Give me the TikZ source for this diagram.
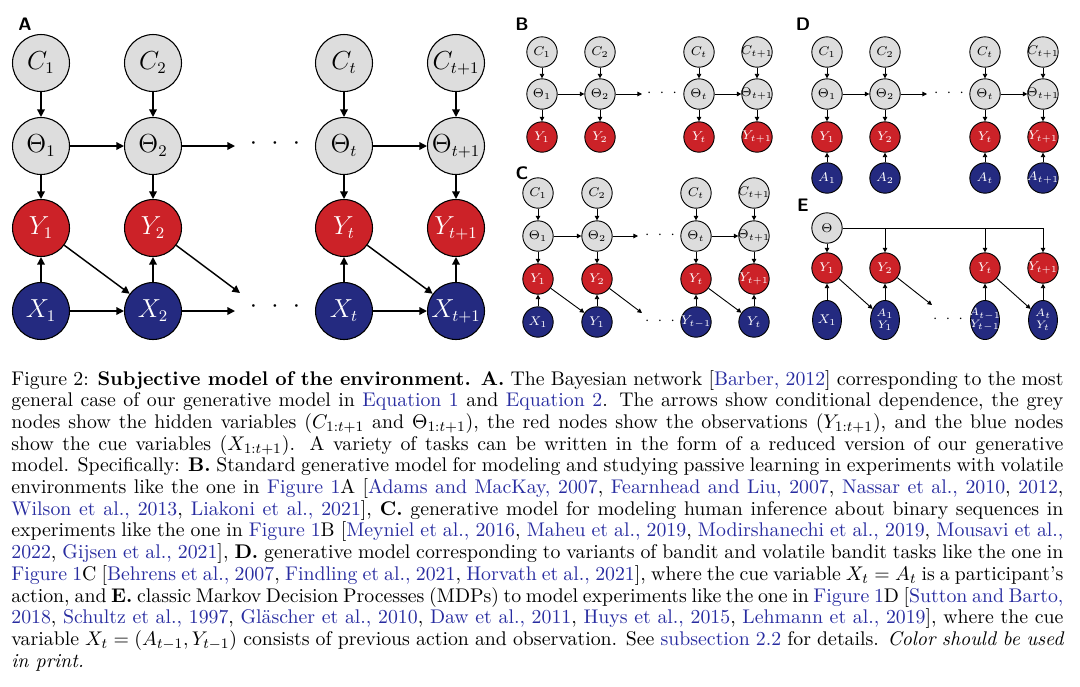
\documentclass[tikz,border=0pt]{standalone}
\usepackage{amsmath,amssymb}
\usepackage{xcolor}
\usepackage{tikz}
\usetikzlibrary{shapes.geometric, arrows.meta, positioning}

\definecolor{hidgrey}{RGB}{221,221,221}
\definecolor{obsred}{RGB}{204,34,40}
\definecolor{cueblue}{RGB}{36,42,128}
\definecolor{linkblue}{RGB}{40,44,160}
\newcommand{\lnk}[1]{\textcolor{linkblue}{#1}}
\newcommand{\trio}{$\cdot\ \cdot\ \cdot$}
\newcommand{\nowide}[1]{\makebox[0pt]{#1}}

\begin{document}
\begin{tikzpicture}[
    x=0.553pt, y=-0.553pt,
    hidden/.style={circle, draw=black, fill=hidgrey, line width=0.6pt, minimum size=31.5pt, inner sep=0pt, font=\fontsize{13.5}{16}\selectfont},
    observed/.style={hidden, fill=obsred, text=white},
    cue/.style={hidden, fill=cueblue, text=white},
    mini/.style={minimum size=16.8pt, line width=0.5pt, font=\fontsize{7.3}{9}\selectfont},
    pair/.style={ellipse, draw=black, fill=cueblue, text=white, line width=0.5pt, minimum width=16pt, minimum height=21.6pt, inner sep=0pt, align=center, font=\fontsize{6.4}{7.5}\selectfont},
    panel/.style={font=\sffamily\bfseries},
    arrow/.style={-{Triangle[length=4.2pt, width=4.2pt]}, line width=0.8pt},
    sarrow/.style={-{Triangle[length=2.5pt, width=2.5pt]}, line width=0.5pt}
]
    \useasboundingbox (0,0) rectangle (1080,686);

    % Panel A: full model
    \node (labA) [panel] at (25,24) {A};
    \node (aC1) [hidden] at (41,63) {$C_1$};
    \node (aC2) [hidden] at (153,63) {$C_2$};
    \node (aCt) [hidden] at (344,63) {$C_t$};
    \node (aCt1) [hidden] at (456,63) {\nowide{$C_{t+1}$}};
    \node (aTh1) [hidden] at (41,146) {$\Theta_1$};
    \node (aTh2) [hidden] at (153,146) {$\Theta_2$};
    \node (aTht) [hidden] at (344,146) {$\Theta_t$};
    \node (aTht1) [hidden] at (456,146) {\nowide{$\Theta_{t+1}$}};
    \node (aY1) [observed] at (41,228) {$Y_1$};
    \node (aY2) [observed] at (153,228) {$Y_2$};
    \node (aYt) [observed] at (344,228) {$Y_t$};
    \node (aYt1) [observed] at (456,228) {\nowide{$Y_{t+1}$}};
    \node (aX1) [cue] at (41,311) {$X_1$};
    \node (aX2) [cue] at (153,311) {$X_2$};
    \node (aXt) [cue] at (344,311) {$X_t$};
    \node (aXt1) [cue] at (456,311) {\nowide{$X_{t+1}$}};
    \node (aDotsTh) [font=\Large] at (275,144) {\trio};
    \node (aDotsX) [font=\Large] at (275,307) {\trio};
    \coordinate (aThEnd) at (235,146);
    \coordinate (aXEnd) at (235,311);
    \coordinate (aYEnd) at (240,293);

    \draw [arrow] (aC1) -- (aTh1);
    \draw [arrow] (aC2) -- (aTh2);
    \draw [arrow] (aCt) -- (aTht);
    \draw [arrow] (aCt1) -- (aTht1);
    \draw [arrow] (aTh1) -- (aY1);
    \draw [arrow] (aTh2) -- (aY2);
    \draw [arrow] (aTht) -- (aYt);
    \draw [arrow] (aTht1) -- (aYt1);
    \draw [arrow] (aX1) -- (aY1);
    \draw [arrow] (aX2) -- (aY2);
    \draw [arrow] (aXt) -- (aYt);
    \draw [arrow] (aXt1) -- (aYt1);
    \draw [arrow] (aTh1) -- (aTh2);
    \draw [arrow] (aTh2) -- (aThEnd);
    \draw [arrow] (aTht) -- (aTht1);
    \draw [arrow] (aX1) -- (aX2);
    \draw [arrow] (aX2) -- (aXEnd);
    \draw [arrow] (aXt) -- (aXt1);
    \draw [arrow] (aY1) -- (aX2);
    \draw [arrow] (aY2) -- (aYEnd);
    \draw [arrow] (aYt) -- (aXt1);

    % Panel B: passive learning
    \node (labB) [panel] at (522,24) {B};
    \node (bC1) [hidden, mini] at (542,52) {$C_1$};
    \node (bC2) [hidden, mini] at (600,52) {$C_2$};
    \node (bCt) [hidden, mini] at (699,52) {$C_t$};
    \node (bCt1) [hidden, mini] at (757,52) {\nowide{$C_{t+1}$}};
    \node (bTh1) [hidden, mini] at (542,94) {$\Theta_1$};
    \node (bTh2) [hidden, mini] at (600,94) {$\Theta_2$};
    \node (bTht) [hidden, mini] at (699,94) {$\Theta_t$};
    \node (bTht1) [hidden, mini] at (757,94) {\nowide{$\Theta_{t+1}$}};
    \node (bY1) [observed, mini] at (542,137) {$Y_1$};
    \node (bY2) [observed, mini] at (600,137) {$Y_2$};
    \node (bYt) [observed, mini] at (699,137) {$Y_t$};
    \node (bYt1) [observed, mini] at (757,137) {\nowide{$Y_{t+1}$}};
    \node (bDots) [font=\footnotesize] at (662,93) {\trio};
    \coordinate (bThEnd) at (642,94);

    \draw [sarrow] (bC1) -- (bTh1);
    \draw [sarrow] (bC2) -- (bTh2);
    \draw [sarrow] (bCt) -- (bTht);
    \draw [sarrow] (bCt1) -- (bTht1);
    \draw [sarrow] (bTh1) -- (bY1);
    \draw [sarrow] (bTh2) -- (bY2);
    \draw [sarrow] (bTht) -- (bYt);
    \draw [sarrow] (bTht1) -- (bYt1);
    \draw [sarrow] (bTh1) -- (bTh2);
    \draw [sarrow] (bTh2) -- (bThEnd);
    \draw [sarrow] (bTht) -- (bTht1);

    % Panel C: binary sequences
    \node (labC) [panel] at (522,173) {C};
    \node (cC1) [hidden, mini] at (538,193) {$C_1$};
    \node (cC2) [hidden, mini] at (597,193) {$C_2$};
    \node (cCt) [hidden, mini] at (696,193) {$C_t$};
    \node (cCt1) [hidden, mini] at (754,193) {\nowide{$C_{t+1}$}};
    \node (cTh1) [hidden, mini] at (538,236) {$\Theta_1$};
    \node (cTh2) [hidden, mini] at (597,236) {$\Theta_2$};
    \node (cTht) [hidden, mini] at (696,236) {$\Theta_t$};
    \node (cTht1) [hidden, mini] at (754,236) {\nowide{$\Theta_{t+1}$}};
    \node (cY1) [observed, mini] at (538,279) {$Y_1$};
    \node (cY2) [observed, mini] at (597,279) {$Y_2$};
    \node (cYt) [observed, mini] at (696,279) {$Y_t$};
    \node (cYt1) [observed, mini] at (754,279) {\nowide{$Y_{t+1}$}};
    \node (cX1) [cue, mini] at (538,322) {$X_1$};
    \node (cX2) [cue, mini] at (597,322) {$Y_1$};
    \node (cXt) [cue, mini] at (696,322) {\nowide{$Y_{t-1}$}};
    \node (cXt1) [cue, mini] at (754,322) {$Y_t$};
    \node (cDotsTh) [font=\footnotesize] at (660,235) {\trio};
    \node (cDotsX) [font=\footnotesize] at (660,321) {\trio};
    \coordinate (cThEnd) at (638,236);
    \coordinate (cYEnd) at (642,313);

    \draw [sarrow] (cC1) -- (cTh1);
    \draw [sarrow] (cC2) -- (cTh2);
    \draw [sarrow] (cCt) -- (cTht);
    \draw [sarrow] (cCt1) -- (cTht1);
    \draw [sarrow] (cTh1) -- (cY1);
    \draw [sarrow] (cTh2) -- (cY2);
    \draw [sarrow] (cTht) -- (cYt);
    \draw [sarrow] (cTht1) -- (cYt1);
    \draw [sarrow] (cX1) -- (cY1);
    \draw [sarrow] (cX2) -- (cY2);
    \draw [sarrow] (cXt) -- (cYt);
    \draw [sarrow] (cXt1) -- (cYt1);
    \draw [sarrow] (cTh1) -- (cTh2);
    \draw [sarrow] (cTh2) -- (cThEnd);
    \draw [sarrow] (cTht) -- (cTht1);
    \draw [sarrow] (cY1) -- (cX2);
    \draw [sarrow] (cY2) -- (cYEnd);
    \draw [sarrow] (cYt) -- (cXt1);

    % Panel D: bandit tasks
    \node (labD) [panel] at (803,24) {D};
    \node (dC1) [hidden, mini] at (827,52) {$C_1$};
    \node (dC2) [hidden, mini] at (885,52) {$C_2$};
    \node (dCt) [hidden, mini] at (985,52) {$C_t$};
    \node (dCt1) [hidden, mini] at (1043,52) {\nowide{$C_{t+1}$}};
    \node (dTh1) [hidden, mini] at (827,94) {$\Theta_1$};
    \node (dTh2) [hidden, mini] at (885,94) {$\Theta_2$};
    \node (dTht) [hidden, mini] at (985,94) {$\Theta_t$};
    \node (dTht1) [hidden, mini] at (1043,94) {\nowide{$\Theta_{t+1}$}};
    \node (dY1) [observed, mini] at (827,137) {$Y_1$};
    \node (dY2) [observed, mini] at (885,137) {$Y_2$};
    \node (dYt) [observed, mini] at (985,137) {$Y_t$};
    \node (dYt1) [observed, mini] at (1043,137) {\nowide{$Y_{t+1}$}};
    \node (dA1) [cue, mini] at (827,178) {$A_1$};
    \node (dA2) [cue, mini] at (885,178) {$A_2$};
    \node (dAt) [cue, mini] at (985,178) {$A_t$};
    \node (dAt1) [cue, mini] at (1043,178) {\nowide{$A_{t+1}$}};
    \node (dDots) [font=\footnotesize] at (949,93) {\trio};
    \coordinate (dThEnd) at (927,94);

    \draw [sarrow] (dC1) -- (dTh1);
    \draw [sarrow] (dC2) -- (dTh2);
    \draw [sarrow] (dCt) -- (dTht);
    \draw [sarrow] (dCt1) -- (dTht1);
    \draw [sarrow] (dTh1) -- (dY1);
    \draw [sarrow] (dTh2) -- (dY2);
    \draw [sarrow] (dTht) -- (dYt);
    \draw [sarrow] (dTht1) -- (dYt1);
    \draw [sarrow] (dA1) -- (dY1);
    \draw [sarrow] (dA2) -- (dY2);
    \draw [sarrow] (dAt) -- (dYt);
    \draw [sarrow] (dAt1) -- (dYt1);
    \draw [sarrow] (dTh1) -- (dTh2);
    \draw [sarrow] (dTh2) -- (dThEnd);
    \draw [sarrow] (dTht) -- (dTht1);

    % Panel E: Markov decision process
    \node (labE) [panel] at (803,205) {E};
    \node (eTh) [hidden, mini] at (827,228) {$\Theta$};
    \node (eY1) [observed, mini] at (827,268) {$Y_1$};
    \node (eY2) [observed, mini] at (885,268) {$Y_2$};
    \node (eYt) [observed, mini] at (985,268) {$Y_t$};
    \node (eYt1) [observed, mini] at (1043,268) {\nowide{$Y_{t+1}$}};
    \node (eX1) [pair, font=\fontsize{7.3}{9}\selectfont] at (827,320) {\nowide{$X_1$}};
    \node (eX2) [pair] at (885,320) {\nowide{$A_1$}\\[-1pt]\nowide{$Y_1$}};
    \node (eXt) [pair] at (985,320) {\nowide{$A_{t-1}$}\\[-1pt]\nowide{$Y_{t-1}$}};
    \node (eXt1) [pair] at (1043,320) {\nowide{$A_t$}\\[-1pt]\nowide{$Y_t$}};
    \node (eDots) [font=\footnotesize] at (948,319) {\trio};
    \coordinate (eYEnd) at (932,305);

    \draw [sarrow] (eTh) -- (eY1);
    \draw [sarrow] (eTh) -| (eY2);
    \draw [sarrow] (eTh) -| (eYt);
    \draw [sarrow] (eTh) -| (eYt1);
    \draw [sarrow] (eX1) -- (eY1);
    \draw [sarrow] (eX2) -- (eY2);
    \draw [sarrow] (eXt) -- (eYt);
    \draw [sarrow] (eXt1) -- (eYt1);
    \draw [sarrow] (eY1) -- (eX2);
    \draw [sarrow] (eY2) -- (eYEnd);
    \draw [sarrow] (eYt) -- (eXt1);

    % Caption
    \node (caption) [anchor=base west, inner sep=0pt, text width=581.8pt, align=justify, font=\fontsize{10.95}{12}\selectfont] at (11,385) {\hyphenpenalty=10000\exhyphenpenalty=10000
    Figure 2: \textbf{Subjective model of the environment. A.} The Bayesian network [\lnk{Barber, 2012}] corresponding to the most\linebreak
    general case of our generative model in \lnk{Equation 1} and \lnk{Equation 2}. The arrows show conditional dependence, the grey\linebreak
    nodes show the hidden variables ($C_{1:t+1}$ and $\Theta_{1:t+1}$), the red nodes show the observations ($Y_{1:t+1}$), and the blue nodes\linebreak
    show the cue variables ($X_{1:t+1}$). A variety of tasks can be written in the form of a reduced version of our generative\linebreak
    model. Specifically: \textbf{B.} Standard generative model for modeling and studying passive learning in experiments with volatile\linebreak
    environments like the one in \lnk{Figure 1}A [\lnk{Adams and MacKay, 2007}, \lnk{Fearnhead and Liu, 2007}, \lnk{Nassar et al., 2010}, \lnk{2012},\linebreak
    \lnk{Wilson et al., 2013}, \lnk{Liakoni et al., 2021}], \textbf{C.} generative model for modeling human inference about binary sequences in\linebreak
    experiments like the one in \lnk{Figure 1}B [\lnk{Meyniel et al., 2016}, \lnk{Maheu et al., 2019}, \lnk{Modirshanechi et al., 2019}, \lnk{Mousavi et al.,}\linebreak
    \lnk{2022}, \lnk{Gijsen et al., 2021}], \textbf{D.} generative model corresponding to variants of bandit and volatile bandit tasks like the one in\linebreak
    \lnk{Figure 1}C [\lnk{Behrens et al., 2007}, \lnk{Findling et al., 2021}, \lnk{Horvath et al., 2021}], where the cue variable $X_t = A_t$ is a participant's\linebreak
    action, and \textbf{E.} classic Markov Decision Processes (MDPs) to model experiments like the one in \lnk{Figure 1}D [\lnk{Sutton and Barto,}\linebreak
    \lnk{2018}, \lnk{Schultz et al., 1997}, \lnk{Gl\"ascher et al., 2010}, \lnk{Daw et al., 2011}, \lnk{Huys et al., 2015}, \lnk{Lehmann et al., 2019}], where the cue\linebreak
    variable $X_t = (A_{t-1}, Y_{t-1})$ consists of previous action and observation. See \lnk{subsection 2.2} for details. \textit{Color should be used\linebreak
    in print.}};

\end{tikzpicture}
\end{document}
